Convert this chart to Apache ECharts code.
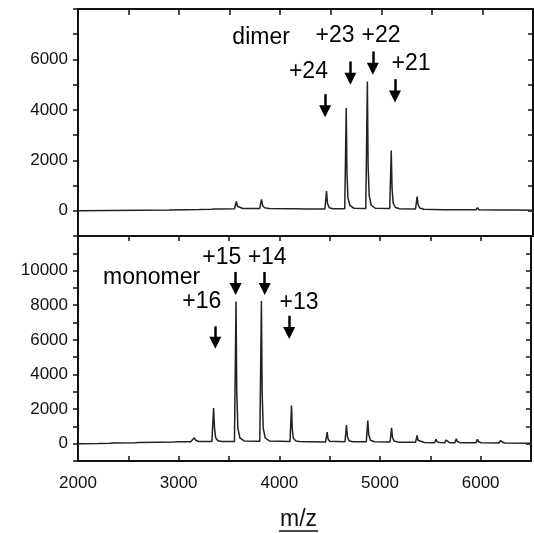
<!DOCTYPE html>
<html>
<head>
<meta charset="utf-8">
<script src="https://cdn.jsdelivr.net/npm/echarts@6/dist/echarts.min.js"></script>
<style>
html,body{margin:0;padding:0;background:#fff;}
#main{width:534px;height:533px;}
</style>
</head>
<body>
<div id="main"></div>
<script>
// ---- Data (m/z, intensity) ----
var xTicks = [2000, 3000, 4000, 5000, 6000];
var dimerYLabels = [0, 2000, 4000, 6000];
var monomerYLabels = [0, 2000, 4000, 6000, 8000, 10000];

var dimerSpectrum = [
  [2000, 0], [2300, 10], [2600, 20], [2900, 30], [3200, 50], [3322, 60], [3340, 110], [3358, 70],
  [3400, 70], [3548, 80], [3566, 370], [3577, 180], [3595, 110], [3630, 90],
  [3797, 90], [3815, 450], [3826, 200], [3845, 120], [3890, 90],
  [4100, 80], [4115, 130], [4130, 80], [4268, 70], [4283, 120], [4298, 70],
  [4442, 70], [4458, 780], [4467, 300], [4485, 120], [4520, 80],
  [4638, 80], [4653, 4070], [4660, 1500], [4670, 500], [4690, 200], [4730, 100],
  [4846, 90], [4862, 5130], [4869, 1800], [4880, 600], [4900, 220], [4940, 100],
  [5083, 90], [5098, 2390], [5106, 900], [5117, 300], [5140, 130], [5180, 80],
  [5338, 70], [5354, 560], [5363, 250], [5380, 110], [5420, 60],
  [5615, 40], [5630, 110], [5645, 40], [5725, 40], [5741, 110], [5756, 40],
  [5935, 40], [5950, 120], [5965, 40], [6170, 30], [6185, 80], [6200, 30],
  [6290, 30], [6303, 90], [6318, 30], [6500, 20]
];

var monomerSpectrum = [
  [2000, 0], [2200, 10], [2320, 30], [2335, 70], [2350, 40], [2570, 60], [2585, 110], [2600, 70],
  [2800, 90], [2955, 100], [2970, 150], [2985, 110], [3120, 110], [3155, 340], [3170, 200], [3200, 130],
  [3330, 120], [3347, 2060], [3356, 900], [3367, 350], [3390, 170], [3430, 130],
  [3554, 130], [3570, 8220], [3577, 3000], [3588, 900], [3608, 330], [3650, 160],
  [3806, 140], [3822, 8250], [3829, 3000], [3840, 900], [3860, 330], [3900, 160],
  [4106, 120], [4121, 2210], [4129, 800], [4140, 300], [4165, 150], [4200, 120],
  [4285, 110], [4300, 210], [4315, 110], [4460, 100], [4475, 670], [4484, 280], [4500, 140],
  [4652, 110], [4667, 1070], [4676, 420], [4692, 170], [4730, 110],
  [4864, 110], [4879, 1330], [4888, 520], [4905, 200], [4945, 110],
  [5100, 100], [5115, 910], [5124, 360], [5140, 150], [5180, 90],
  [5353, 80], [5368, 480], [5377, 200], [5395, 100], [5440, 70],
  [5542, 60], [5556, 250], [5566, 120], [5590, 70], [5643, 60], [5657, 200], [5667, 110], [5690, 60],
  [5744, 60], [5758, 290], [5768, 130], [5795, 60], [5953, 50], [5967, 250], [5977, 110], [6005, 50],
  [6182, 40], [6196, 170], [6206, 80], [6235, 40], [6500, 30]
];

// annotation text: [label, m/z, intensity]
var dimerNotes = [
  ['dimer', 3811, 6848], ['+23', 4542, 6940], ['+22', 4997, 6940],
  ['+24', 4279, 5523], ['+21', 5293, 5828]
];
var monomerNotes = [
  ['monomer', 2731, 9581], ['+15', 3428, 10762], ['+14', 3879, 10762],
  ['+16', 3229, 8210], ['+13', 4195, 8152]
];
// arrows: [m/z, start intensity, end intensity]
var dimerArrows = [[4444, 4623, 3950], [4694, 5921, 5233], [4916, 6318, 5631], [5135, 5219, 4531]];
var monomerArrows = [[3364, 6781, 5830], [3566, 9924, 8933], [3855, 9924, 8933], [4098, 7390, 6400]];

// ---- Chart ----
var FONT = '"Liberation Sans", Arial, sans-serif';
var INK = '#111';
var chart = echarts.init(document.getElementById('main'), null, {renderer: 'canvas'});

function lineAx(show) { return {show: show, onZero: false, lineStyle: {color: INK, width: 2}}; }

function arrowLines(arr) {
  return arr.map(function (a) { return [{coord: [a[0], a[1]]}, {coord: [a[0], a[2]]}]; });
}
function noteData(arr) {
  return arr.map(function (n) { return {name: n[0], value: [n[1], n[2]]}; });
}

var noteLabel = {show: true, position: 'inside', formatter: '{b}', color: '#000', fontSize: 23, fontFamily: FONT};

var option = {
  animation: false,
  backgroundColor: '#fff',
  grid: [
    {left: 78, right: 1, top: 9, height: 227},
    {left: 78, right: 1, top: 236, height: 225}
  ],
  xAxis: [
    {type: 'value', gridIndex: 0, position: 'bottom', min: 2000, max: 6500, interval: 500,
      axisLine: lineAx(true), axisTick: {show: false}, axisLabel: {show: false}, splitLine: {show: false}},
    {type: 'value', gridIndex: 0, position: 'top', min: 2000, max: 6500, interval: 500,
      axisLine: lineAx(true), axisTick: {show: true, inside: true, length: 6, lineStyle: {color: INK, width: 1.5}},
      axisLabel: {show: false}, splitLine: {show: false}},
    {type: 'value', gridIndex: 1, position: 'bottom', min: 2000, max: 6500, interval: 500,
      axisLine: lineAx(true), axisTick: {show: true, inside: true, length: 5, lineStyle: {color: INK, width: 1.5}},
      axisLabel: {show: true, margin: 14, color: INK, fontSize: 17, fontFamily: FONT,
        formatter: function (v) { return xTicks.indexOf(v) >= 0 ? String(v) : ''; }},
      splitLine: {show: false}},
    {type: 'value', gridIndex: 1, position: 'top', min: 2000, max: 6500, interval: 500,
      axisLine: lineAx(true), axisTick: {show: true, inside: true, length: 5, lineStyle: {color: INK, width: 1.5}},
      axisLabel: {show: false}, splitLine: {show: false}}
  ],
  yAxis: [
    {type: 'value', gridIndex: 0, position: 'left', min: -1000, max: 8000, interval: 1000,
      axisLine: lineAx(true), axisTick: {show: true, inside: false, length: 5, lineStyle: {color: INK, width: 1.5}},
      axisLabel: {show: true, margin: 10, color: INK, fontSize: 17, fontFamily: FONT,
        formatter: function (v) { return dimerYLabels.indexOf(v) >= 0 ? String(v) : ''; }},
      splitLine: {show: false}},
    {type: 'value', gridIndex: 0, position: 'right', min: -1000, max: 8000, interval: 1000,
      axisLine: lineAx(true), axisTick: {show: true, inside: true, length: 5, lineStyle: {color: INK, width: 1.5}},
      axisLabel: {show: false}, splitLine: {show: false}},
    {type: 'value', gridIndex: 1, position: 'left', min: -1000, max: 12000, interval: 1000,
      axisLine: lineAx(true), axisTick: {show: true, inside: false, length: 5, lineStyle: {color: INK, width: 1.5}},
      axisLabel: {show: true, margin: 10, color: INK, fontSize: 17, fontFamily: FONT,
        formatter: function (v) { return monomerYLabels.indexOf(v) >= 0 ? String(v) : ''; }},
      splitLine: {show: false}},
    {type: 'value', gridIndex: 1, position: 'right', min: -1000, max: 12000, interval: 1000,
      axisLine: lineAx(true), axisTick: {show: true, inside: true, length: 5, lineStyle: {color: INK, width: 1.5}},
      axisLabel: {show: false}, splitLine: {show: false}}
  ],
  series: [
    {type: 'line', xAxisIndex: 0, yAxisIndex: 0, data: dimerSpectrum, showSymbol: false, silent: true,
      lineStyle: {color: '#222', width: 1.5}},
    {type: 'line', xAxisIndex: 2, yAxisIndex: 2, data: monomerSpectrum, showSymbol: false, silent: true,
      lineStyle: {color: '#222', width: 1.5}},
    {type: 'scatter', xAxisIndex: 0, yAxisIndex: 0, data: noteData(dimerNotes), symbolSize: 0, silent: true,
      itemStyle: {opacity: 1}, label: noteLabel,
      markLine: {silent: true, symbol: ['none', 'triangle'], symbolSize: 12, animation: false,
        label: {show: false}, lineStyle: {color: '#000', width: 2.5, type: 'solid', opacity: 1},
        itemStyle: {color: '#000'}, data: arrowLines(dimerArrows)}},
    {type: 'scatter', xAxisIndex: 2, yAxisIndex: 2, data: noteData(monomerNotes), symbolSize: 0, silent: true,
      itemStyle: {opacity: 1}, label: noteLabel,
      markLine: {silent: true, symbol: ['none', 'triangle'], symbolSize: 12, animation: false,
        label: {show: false}, lineStyle: {color: '#000', width: 2.5, type: 'solid', opacity: 1},
        itemStyle: {color: '#000'}, data: arrowLines(monomerArrows)}}
  ],
  graphic: [
    {type: 'text', x: 298.5, y: 520, style: {text: 'm/z', fill: INK, font: '23px ' + FONT, align: 'center', verticalAlign: 'middle'}},
    {type: 'line', shape: {x1: 279, y1: 531, x2: 318, y2: 531}, style: {stroke: INK, lineWidth: 1.5}}
  ]
};
chart.setOption(option);
</script>
</body>
</html>
